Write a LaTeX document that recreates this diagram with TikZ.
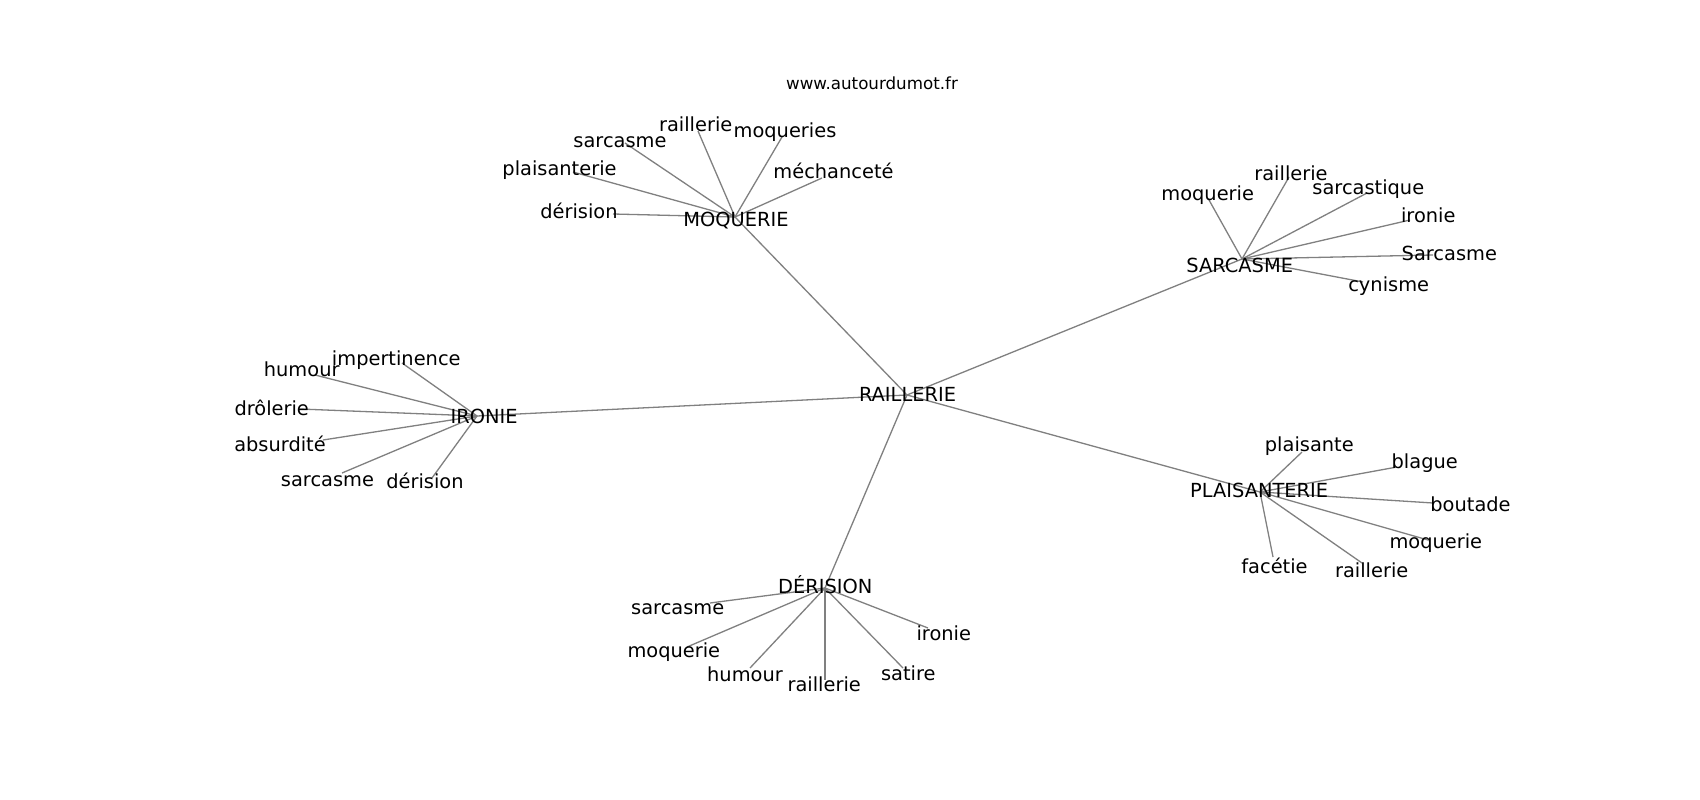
\documentclass[tikz,border=0pt]{standalone}
\usepackage{fontspec}
\setmainfont{DejaVu Sans}
\begin{document}
\begin{tikzpicture}[x=1pt,y=-1pt,
  edge/.style={draw=gray, line width=1.3pt},
  lbl/.style={anchor=base, inner sep=0pt, font=\fontsize{19.4}{23}\selectfont, text=black, yshift=-1pt},
  dlbl/.style={lbl, yshift=-0.5pt},
  urlbl/.style={anchor=base, inner sep=0pt, font=\fontsize{16.7}{20}\selectfont, text=black}]
\fill[white] (0,0) rectangle (1700,800);
\useasboundingbox (0,0) rectangle (1700,800);
% hub positions
\coordinate (R) at (907,395);
\coordinate (M) at (735,217);
\coordinate (S) at (1242,259);
\coordinate (I) at (477,416);
\coordinate (P) at (1260,492);
\coordinate (D) at (825,588);
% leaf positions
\coordinate (m1) at (698,131);
\coordinate (m2) at (782,137);
\coordinate (m3) at (625,143);
\coordinate (m4) at (573,172);
\coordinate (m5) at (822,178);
\coordinate (m6) at (613,214);
\coordinate (s1) at (1289,177);
\coordinate (s2) at (1209,200);
\coordinate (s3) at (1367,193);
\coordinate (s4) at (1410,220);
\coordinate (s5) at (1433,255);
\coordinate (s6) at (1363,282);
\coordinate (i1) at (402,363);
\coordinate (i2) at (315,375);
\coordinate (i3) at (300,409);
\coordinate (i4) at (323,440);
\coordinate (i5) at (342,473);
\coordinate (i6) at (432,478);
\coordinate (p1) at (1302,452);
\coordinate (p2) at (1397,467);
\coordinate (p3) at (1433,503);
\coordinate (p4) at (1428,540);
\coordinate (p5) at (1273,557);
\coordinate (p6) at (1362,563);
\coordinate (d1) at (710,603);
\coordinate (d2) at (687,647);
\coordinate (d3) at (750,668);
\coordinate (d4) at (825,680);
\coordinate (d5) at (903,668);
\coordinate (d6) at (928,628);
% edges
\foreach \h in {M,S,I,P,D} {\draw[edge] (R) -- (\h);}
\foreach \k in {1,...,6} {
  \draw[edge] (M) -- (m\k);
  \draw[edge] (S) -- (s\k);
  \draw[edge] (I) -- (i\k);
  \draw[edge] (P) -- (p\k);
  \draw[edge] (D) -- (d\k);
}
% labels
\node[urlbl] (url) at (872,89.3) {www.autourdumot.fr};
\node[lbl] (tR) at (907.5,400) {RAILLERIE};
\node[lbl] (tM) at (736,225) {MOQUERIE};
\node[lbl] (tS) at (1239.7,271) {SARCASME};
\node[lbl] (tI) at (484.2,422.3) {IRONIE};
\node[lbl] (tP) at (1259.2,496.7) {PLAISANTERIE};
\node[lbl] (tD) at (825.3,592.7) {DÉRISION};
\node[lbl] (tm1) at (695.7,130.7) {raillerie};
\node[dlbl] (tm2) at (785,135.5) {moqueries};
\node[lbl] (tm3) at (620,146.7) {sarcasme};
\node[dlbl] (tm4) at (559.5,174) {plaisanterie};
\node[lbl] (tm5) at (833.5,177.3) {méchanceté};
\node[lbl] (tm6) at (579,217.3) {dérision};
\node[lbl] (ts1) at (1291,179.3) {raillerie};
\node[dlbl] (ts2) at (1207.7,199) {moquerie};
\node[dlbl] (ts3) at (1368.3,193.3) {sarcastique};
\node[lbl] (ts4) at (1428.3,221) {ironie};
\node[lbl] (ts5) at (1449.3,259.3) {Sarcasme};
\node[dlbl] (ts6) at (1388.7,290) {cynisme};
\node[dlbl] (ti1) at (396.3,364) {impertinence};
\node[lbl] (ti2) at (301.7,375.7) {humour};
\node[lbl] (ti3) at (271.7,414) {drôlerie};
\node[lbl] (ti4) at (280,450.7) {absurdité};
\node[lbl] (ti5) at (327.5,485) {sarcasme};
\node[lbl] (ti6) at (425,487.3) {dérision};
\node[dlbl] (tp1) at (1309.3,450) {plaisante};
\node[dlbl] (tp2) at (1424.7,467.3) {blague};
\node[lbl] (tp3) at (1470.5,510.7) {boutade};
\node[dlbl] (tp4) at (1435.8,546.7) {moquerie};
\node[lbl] (tp5) at (1274.5,572.3) {facétie};
\node[lbl] (tp6) at (1371.7,576.7) {raillerie};
\node[lbl] (td1) at (677.7,613.3) {sarcasme};
\node[dlbl] (td2) at (673.8,656) {moquerie};
\node[lbl] (td3) at (745,680.7) {humour};
\node[lbl] (td4) at (824.2,690) {raillerie};
\node[lbl] (td5) at (908.3,679.3) {satire};
\node[lbl] (td6) at (943.8,639.3) {ironie};
\end{tikzpicture}
\end{document}
